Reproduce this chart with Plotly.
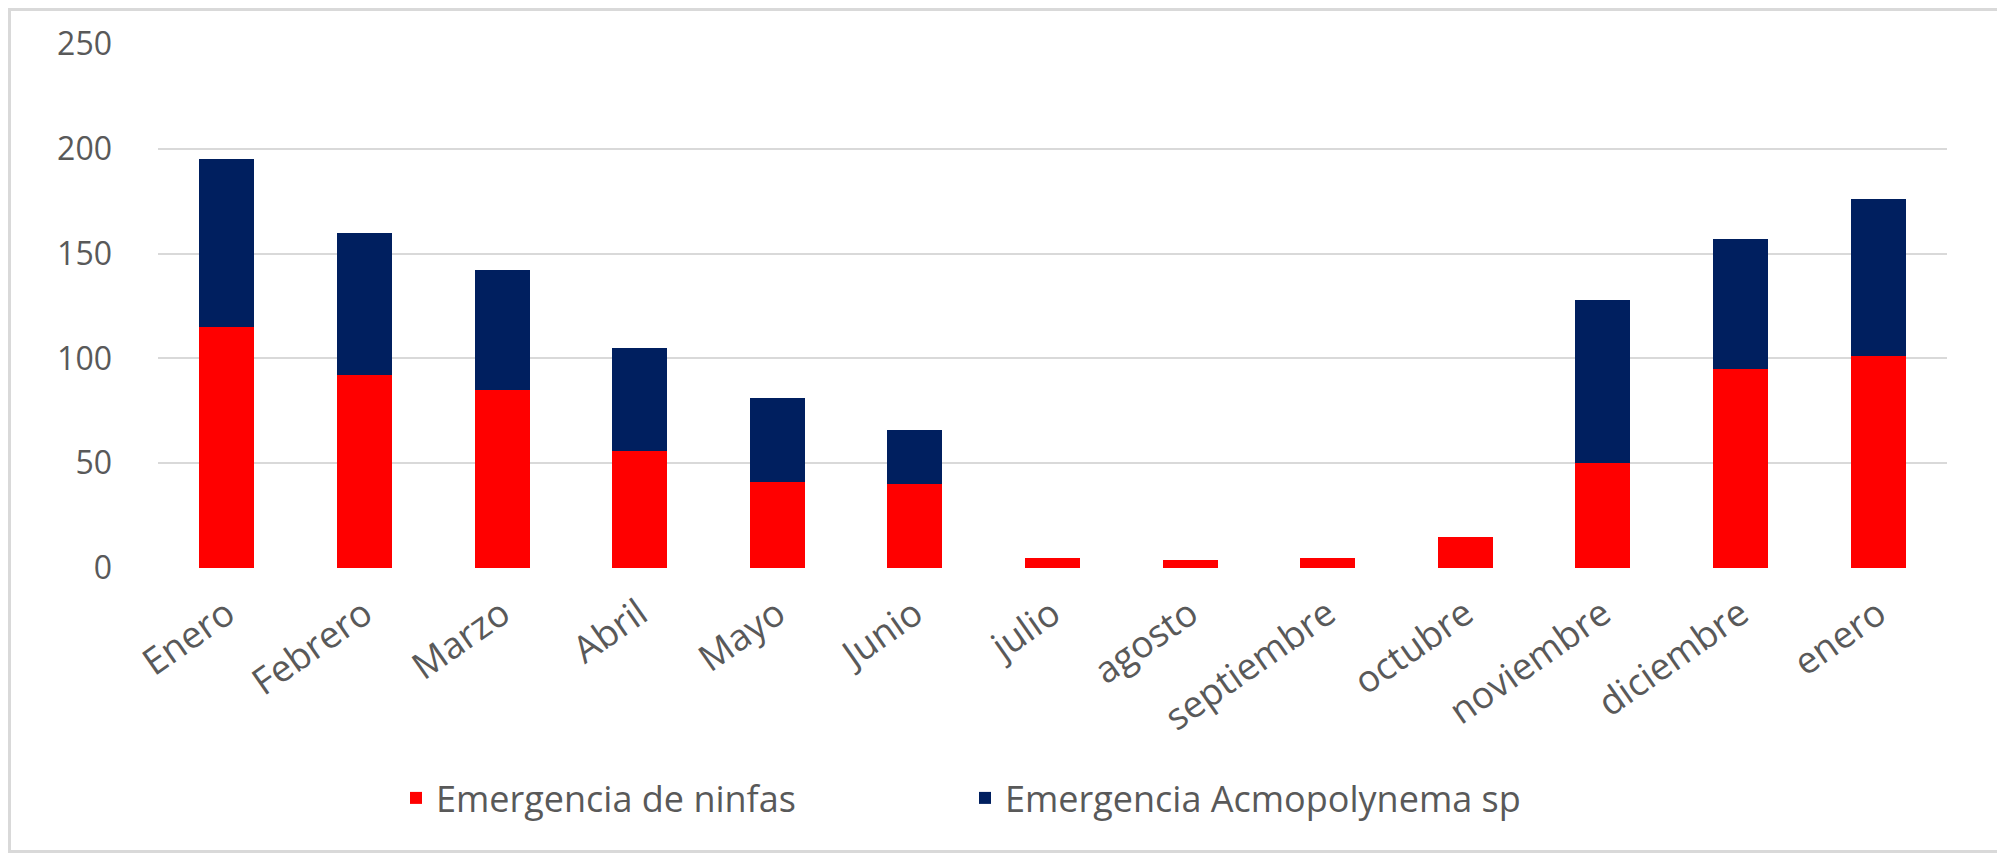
import plotly.graph_objects as go

months = ["Enero", "Febrero", "Marzo", "Abril", "Mayo", "Junio", "julio", "agosto",
          "septiembre", "octubre", "noviembre", "diciembre", "enero"]
ninfas = [115, 92, 85, 56, 41, 40, 5, 4, 5, 15, 50, 95, 101]
acmopolynema = [80, 68, 57, 49, 40, 26, 0, 0, 0, 0, 78, 62, 75]
y_ticks = [0, 50, 100, 150, 200, 250]

# the page body adds an 8 px offset; target pixel positions are shifted by it
OFF = 8
W, H = 2005 - OFF, 854 - OFF
ML, MT = 158 - OFF, 44 - OFF
PW, PH = 1789, 524
MR, MB = W - ML - PW, H - MT - PH


def px_x(p):
    return (p - OFF - ML) / PW


def px_y(p):
    return (MT + PH - (p - OFF)) / PH


def fig_x(f):
    return (f - ML) / PW


def fig_y(f):
    return (MT + PH - f) / PH


FONT = "Open Sans"
GRAY = "#595959"

fig = go.Figure()
fig.add_trace(go.Bar(x=months, y=ninfas, name="Emergencia de ninfas",
                     marker=dict(color="#FF0000", line=dict(width=0))))
fig.add_trace(go.Bar(x=months, y=acmopolynema, name="Emergencia Acmopolynema sp",
                     marker=dict(color="#001F5F", line=dict(width=0))))

fig.update_layout(
    width=W, height=H,
    barmode="stack", bargap=0.6,
    plot_bgcolor="white", paper_bgcolor="white",
    margin=dict(l=ML, r=MR, t=MT, b=MB, autoexpand=False),
    font=dict(family=FONT, color=GRAY, size=32),
    showlegend=True,
    legend=dict(orientation="h", x=px_x(396), xanchor="left",
                y=px_y(798), yanchor="middle",
                font=dict(family=FONT, size=36, color=GRAY),
                entrywidth=524, entrywidthmode="pixels",
                traceorder="normal"),
    xaxis=dict(tickangle=-35, tickfont=dict(family=FONT, size=37, color=GRAY),
               showline=False, showgrid=False, ticks="", ticklen=0,
               automargin=False, ticklabelstandoff=16),
    yaxis=dict(range=[0, 250], tickvals=y_ticks,
               tickfont=dict(family=FONT, size=32, color=GRAY),
               showgrid=True, gridcolor="#D9D9D9", gridwidth=1.5,
               zeroline=False, showline=False, ticks="", ticklabelstandoff=45,
               automargin=False),
    shapes=[dict(type="rect", xref="paper", yref="paper",
                 x0=fig_x(1.5), x1=fig_x(W - 2.5), y0=fig_y(H - 2.5), y1=fig_y(1.5),
                 line=dict(color="#D9D9D9", width=3), layer="below")],
)

fig.write_html("out.html")
